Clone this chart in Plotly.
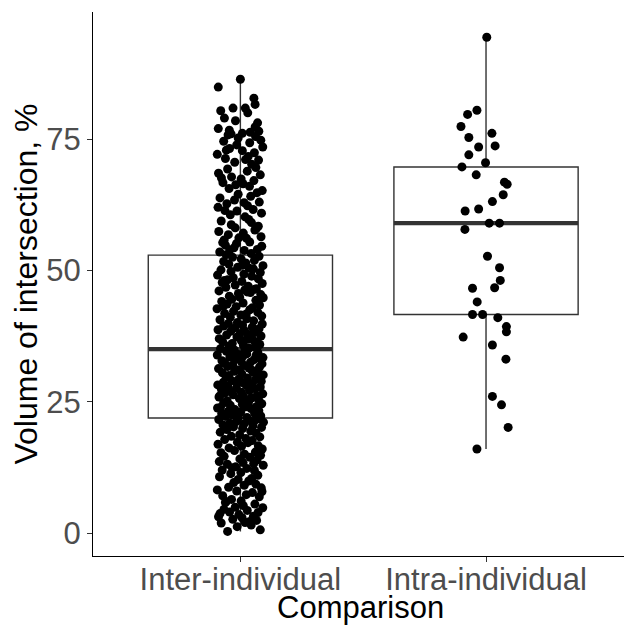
import plotly.graph_objects as go

# ---------------- data ----------------
categories = ["Inter-individual", "Intra-individual"]
cat_pos = [1, 2]

# box statistics: q1, median, q3, lower whisker, upper whisker
box_q1 = [21.9, 41.6]
box_median = [35.0, 59.0]
box_q3 = [52.9, 69.7]
box_low = [0.3, 16.0]
box_high = [86.4, 94.4]

# Intra-individual points (value, horizontal jitter)
intra_y = [94.4, 80.5, 79.7, 77.4, 76.1, 75.3, 73.7, 73.5, 72.0, 70.5,
           69.7, 68.2, 66.8, 66.4, 64.4, 63.1, 61.7, 61.3, 59.0, 59.0,
           57.8, 52.7, 50.5, 48.1, 46.7, 46.6, 44.0, 41.6, 41.6, 41.0,
           39.3, 38.3, 37.3, 35.8, 33.1, 26.0, 24.4, 20.1, 16.0]
intra_jitter = [0.003, -0.037, -0.075, -0.102, 0.024, -0.070, 0.037, -0.030, -0.070, -0.002,
                -0.098, -0.040, 0.075, 0.086, 0.070, 0.026, -0.030, -0.085, 0.013, 0.055,
                -0.086, 0.006, 0.055, 0.058, 0.035, -0.055, -0.036, -0.055, -0.014, 0.048,
                0.083, 0.083, -0.093, 0.026, 0.081, 0.026, 0.063, 0.090, -0.037]

# Inter-individual points (estimated from the dense cloud)
inter_y = [
    0.3, 0.6, 1.2, 1.5, 1.9, 2.0, 2.4, 2.6, 2.9, 3.1, 3.2, 3.5,
    3.9, 4.0, 4.3, 4.5, 4.8, 4.9, 2.2, 3.7, 5.2, 5.5, 6.0, 6.1,
    6.4, 6.9, 7.1, 7.3, 7.7, 8.0, 8.2, 8.6, 8.7, 9.1, 9.3, 9.6,
    9.9, 5.8, 7.9, 10.2, 10.4, 10.7, 11.0, 11.3, 11.5, 11.9, 12.0, 12.3,
    12.6, 12.9, 13.1, 13.4, 13.6, 13.9, 14.1, 14.4, 14.6, 14.8, 12.4, 13.2,
    15.0, 15.3, 15.4, 15.7, 16.0, 16.2, 16.5, 16.6, 16.9, 17.2, 17.3, 17.6,
    17.8, 18.0, 18.3, 18.4, 18.7, 19.0, 19.2, 19.4, 19.7, 19.9, 20.1, 20.2,
    20.4, 20.6, 20.7, 20.9, 21.1, 21.2, 21.4, 21.6, 21.7, 21.9, 22.0, 22.2,
    22.3, 22.5, 22.7, 22.8, 23.0, 23.2, 23.3, 23.5, 23.7, 23.8, 24.0, 24.1,
    24.3, 24.5, 24.6, 24.8, 24.9, 22.6, 21.3, 23.9, 25.1, 25.2, 25.4, 25.6,
    25.7, 25.9, 26.0, 26.2, 26.3, 26.5, 26.7, 26.8, 27.0, 27.1, 27.3, 27.5,
    27.6, 27.8, 27.9, 28.1, 28.2, 28.4, 28.6, 28.7, 28.9, 29.0, 29.2, 29.3,
    29.5, 29.7, 29.8, 26.1, 27.4, 28.5, 30.0, 30.1, 30.3, 30.5, 30.6, 30.8,
    30.9, 31.1, 31.3, 31.4, 31.6, 31.7, 31.9, 32.0, 32.2, 32.4, 32.5, 32.7,
    32.8, 33.0, 33.1, 33.3, 33.5, 33.6, 33.8, 33.9, 34.1, 34.2, 34.4, 34.6,
    34.7, 34.9, 31.0, 32.3, 33.4, 34.0, 35.1, 35.2, 35.4, 35.6, 35.8, 35.9,
    36.1, 36.3, 36.4, 36.6, 36.8, 37.0, 37.1, 37.3, 37.5, 37.7, 37.8, 38.0,
    38.2, 38.4, 38.5, 38.7, 38.9, 39.1, 39.2, 39.4, 39.6, 39.8, 39.9, 36.9,
    40.1, 40.4, 40.6, 40.8, 41.1, 41.3, 41.5, 41.8, 42.0, 42.2, 42.5, 42.7,
    42.9, 43.1, 43.4, 43.6, 43.8, 44.1, 44.3, 44.5, 44.8, 44.9, 41.7, 43.2,
    45.1, 45.4, 45.6, 45.8, 46.1, 46.3, 46.5, 46.8, 47.0, 47.2, 47.5, 47.7,
    47.9, 48.2, 48.4, 48.6, 48.9, 49.1, 49.3, 49.6, 49.8, 46.4, 48.1, 45.9,
    50.1, 50.4, 50.6, 50.9, 51.2, 51.4, 51.7, 51.9, 52.2, 52.5, 52.7, 53.0,
    53.2, 53.5, 53.8, 54.0, 54.3, 54.6, 54.8, 51.0, 53.9, 50.3, 55.1, 55.4,
    55.8, 56.1, 56.4, 56.8, 57.1, 57.4, 57.7, 58.1, 58.4, 58.7, 59.1, 59.4,
    59.7, 56.2, 57.9, 55.3, 60.2, 60.6, 60.9, 61.3, 61.6, 62.0, 62.3, 62.7,
    63.0, 63.4, 63.8, 64.1, 64.5, 64.8, 61.4, 62.9, 65.2, 65.6, 66.0, 66.3,
    66.7, 67.1, 67.4, 67.8, 68.2, 68.5, 68.9, 69.3, 69.6, 66.5, 67.6, 70.2,
    70.6, 71.0, 71.3, 71.7, 72.1, 72.4, 72.8, 73.2, 73.5, 73.9, 74.3, 74.6,
    71.1, 72.9, 74.8, 75.2, 75.5, 76.0, 76.1, 76.5, 76.7, 77.3, 75.8, 77.0,
    76.3, 79.0, 78.1, 80.0, 80.9, 80.9, 82.8, 84.9, 86.4, 80.4, 81.6, 78.5,
]
inter_jitter = [
    -0.052, 0.081, -0.013, 0.044, -0.078, 0.019, 0.066, -0.031, 0.007, -0.089, 0.053, -0.006,
    0.072, -0.044, 0.028, -0.067, 0.091, -0.021, 0.038, -0.083, 0.012, 0.059, -0.058, 0.003,
    -0.036, 0.077, -0.072, 0.024, 0.049, -0.015, -0.094, 0.085, -0.048, 0.016, 0.063, -0.027,
    0.034, -0.061, 0.088, -0.009, 0.046, -0.085, 0.071, -0.039, 0.002, 0.057, -0.074, 0.026,
    -0.019, 0.093, -0.053, 0.011, -0.086, 0.068, -0.002, 0.039, -0.066, 0.082, -0.033, 0.054,
    0.017, -0.079, 0.061, -0.024, 0.089, -0.046, 0.005, 0.073, -0.091, 0.031, -0.012, 0.048,
    -0.064, 0.022, 0.079, -0.037, -0.003, 0.064, -0.082, 0.042, -0.055, 0.009, 0.086, -0.028,
    0.051, -0.071, 0.014, -0.043, 0.094, -0.017, 0.036, -0.088, 0.069, -0.008, 0.027, -0.059,
    0.083, -0.034, -0.076, 0.058, 0.001, -0.049, 0.075, -0.022, 0.043, -0.093, 0.018, 0.066,
    -0.041, 0.008, 0.087, -0.068, 0.033, -0.011, 0.056, -0.081, 0.021, -0.054, 0.074, -0.004,
    0.045, -0.087, 0.013, 0.068, -0.029, 0.091, -0.062, 0.004, -0.045, 0.037, -0.077, 0.059,
    -0.016, 0.081, -0.051, 0.024, -0.092, 0.047, 0.011, -0.069, 0.085, -0.035, 0.062, -0.007,
    0.029, -0.058, 0.072, -0.084, 0.039, -0.013, -0.047, 0.093, 0.006, -0.073, 0.052, -0.024,
    0.067, -0.005, -0.089, 0.035, 0.078, -0.052, 0.015, -0.031, 0.088, -0.066, 0.041, 0.003,
    -0.075, 0.056, -0.018, 0.083, -0.043, 0.009, 0.064, -0.094, 0.026, -0.038, 0.071, -0.057,
    0.019, -0.026, 0.047, -0.063, 0.092, -0.009, -0.081, 0.035, 0.058, -0.047, 0.012, 0.079,
    -0.033, 0.069, -0.072, 0.004, 0.051, -0.086, 0.028, -0.014, 0.084, -0.056, 0.042, -0.001,
    0.061, -0.039, 0.017, -0.091, 0.076, -0.022, 0.048, -0.068, 0.009, 0.089, -0.049, 0.031,
    -0.012, 0.054, -0.083, 0.026, -0.041, 0.087, 0.002, -0.064, 0.071, -0.028, 0.038, -0.095,
    0.049, -0.017, 0.078, -0.054, 0.011, -0.076, 0.063, -0.035, 0.093, -0.003, 0.024, -0.069,
    -0.045, 0.083, -0.008, 0.041, -0.087, 0.018, 0.065, -0.059, 0.032, -0.021, 0.089, -0.074,
    0.006, -0.052, 0.073, -0.029, 0.046, -0.093, 0.014, 0.081, -0.038, 0.059, -0.065, 0.027,
    -0.079, 0.036, -0.011, 0.092, -0.047, 0.022, -0.068, 0.057, 0.003, -0.032, 0.076, -0.058,
    0.044, -0.084, 0.016, 0.069, -0.026, 0.087, -0.061, 0.008, -0.043, 0.053, -0.016, 0.038,
    -0.066, 0.025, 0.084, -0.049, 0.012, -0.088, 0.059, -0.021, 0.073, -0.037, 0.045, -0.078,
    0.034, -0.006, 0.064, -0.072, 0.019, -0.041, 0.086, -0.014, 0.052, -0.091, 0.029, -0.055,
    0.077, -0.024, -0.083, 0.042, -0.009, 0.068, -0.063, 0.015, 0.089, -0.046, 0.037, -0.019,
    -0.071, 0.055, 0.003, -0.036, 0.081, -0.089, 0.028, -0.052, 0.063, 0.011, -0.077, 0.046,
    -0.023, 0.074, -0.061, 0.032, -0.094, 0.057, 0.008, -0.044, 0.091, -0.015, 0.038, -0.068,
    0.021, -0.057, 0.083, -0.009, 0.062, -0.038, 0.008, 0.075, -0.045, 0.060, -0.050, -0.090,
    0.040, -0.065, 0.070, 0.030, -0.030, 0.020, 0.055, -0.090, 0.000, -0.080, 0.060, -0.020,
]

y_ticks = [0, 25, 50, 75]
x_title = "Comparison"
y_title = "Volume of intersection, %"

# ---------------- styling ----------------
BOX_W = 0.75
FONT = "Liberation Sans, Arial, sans-serif"
LINE_C = "#333333"

fig = go.Figure()

for i in range(len(categories)):
    fig.add_trace(go.Box(
        x=[cat_pos[i]], q1=[box_q1[i]], median=[box_median[i]], q3=[box_q3[i]],
        lowerfence=[box_low[i]], upperfence=[box_high[i]],
        width=BOX_W, boxpoints=False, whiskerwidth=0,
        fillcolor="rgba(255,255,255,0)",
        line=dict(color=LINE_C, width=1.4),
        hoverinfo="skip", showlegend=False,
    ))
    # thick median line as in ggplot
    fig.add_trace(go.Scatter(
        x=[cat_pos[i] - BOX_W / 2, cat_pos[i] + BOX_W / 2],
        y=[box_median[i], box_median[i]],
        mode="lines", line=dict(color=LINE_C, width=4.2),
        hoverinfo="skip", showlegend=False,
    ))

fig.add_trace(go.Scatter(
    x=[cat_pos[0] + j for j in inter_jitter], y=inter_y,
    mode="markers", marker=dict(color="black", size=9, line=dict(width=0)),
    showlegend=False,
))
fig.add_trace(go.Scatter(
    x=[cat_pos[1] + j for j in intra_jitter], y=intra_y,
    mode="markers", marker=dict(color="black", size=9, line=dict(width=0)),
    showlegend=False,
))

# the page adds an 8px body margin, so the figure is sized to fit the window
fig.update_layout(
    width=624, height=626,
    margin=dict(l=85, r=4, t=4, b=78),
    paper_bgcolor="white", plot_bgcolor="white",
    font=dict(family=FONT, color="black"),
    boxmode="overlay",
    showlegend=False,
    annotations=[dict(
        text=x_title, xref="paper", yref="paper", x=0.5, y=0,
        xanchor="center", yanchor="middle", yshift=-51, showarrow=False,
        font=dict(size=31, color="black", family=FONT),
    )],
)
fig.update_xaxes(
    automargin=False,
    range=[0.4, 2.578], tickvals=cat_pos, ticktext=categories,
    showgrid=False, zeroline=False,
    showline=True, linecolor="black", linewidth=1.2,
    ticks="outside", ticklen=5, tickwidth=1.2, tickcolor=LINE_C,
    ticklabelstandoff=-9,
    tickfont=dict(size=31, color="#4D4D4D", family=FONT),
)
fig.update_yaxes(
    automargin=False,
    range=[-4.38, 99.2], tickvals=y_ticks, ticktext=[str(t) for t in y_ticks],
    showgrid=False, zeroline=False,
    showline=True, linecolor="black", linewidth=1.2,
    ticks="outside", ticklen=5, tickwidth=1.2, tickcolor=LINE_C,
    tickfont=dict(size=31, color="#4D4D4D", family=FONT),
    title=dict(text=y_title, font=dict(size=32, color="black", family=FONT), standoff=13),
)

fig.write_html("out.html")
